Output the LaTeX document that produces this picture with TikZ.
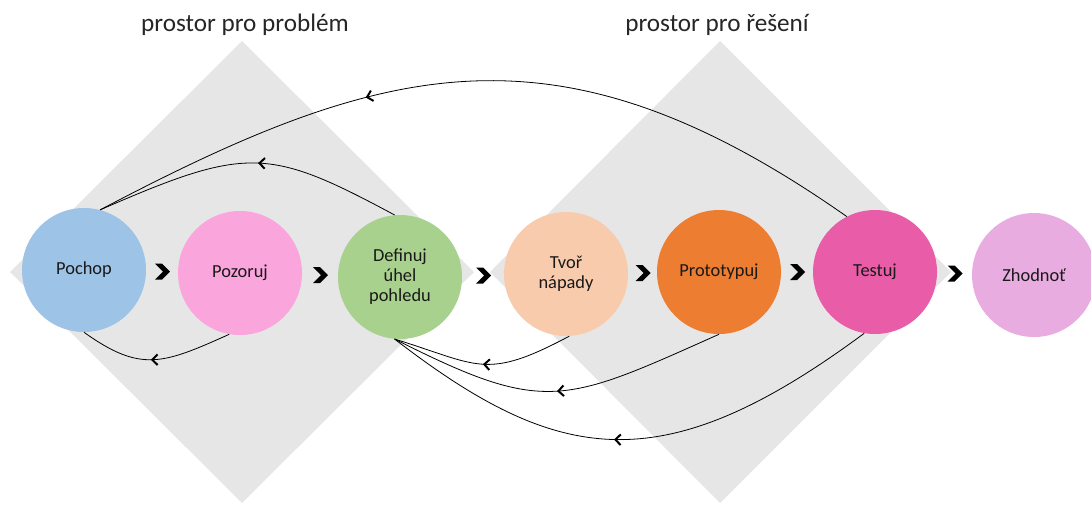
\documentclass[tikz,border=0pt]{standalone}
\usepackage{fontspec}
\setmainfont{Carlito}
\usetikzlibrary{arrows.meta,decorations.markings,calc}

\definecolor{spacegray}{HTML}{E6E6E6}
\definecolor{pochopblue}{HTML}{9DC3E6}
\definecolor{pozorujpink}{HTML}{FBA5DD}
\definecolor{definujgreen}{HTML}{A9D18E}
\definecolor{tvorpeach}{HTML}{F8CBAD}
\definecolor{prototyporange}{HTML}{ED7D31}
\definecolor{testujpink}{HTML}{E95CA8}
\definecolor{zhodnotviolet}{HTML}{E9ACE1}

\begin{document}
\begin{tikzpicture}[x=0.75pt,y=-0.75pt]
  \tikzset{ c/.style={circle,fill=#1,inner sep=0pt,minimum size=93pt,text=black!90,align=center,font=\fontsize{13.8}{15}\selectfont},
    back/.style={line width=0.6pt,postaction={decorate,decoration={markings,mark=at position #1 with {\arrow{Straight Barb[length=4pt,width=8pt,line width=1.5pt]}}}}},
    title/.style={text=black!85,font=\fontsize{18.9}{22}\selectfont},
  }
  \useasboundingbox (0,0) rectangle (1091,504);

  % the two spaces
  \fill[spacegray] (242,41) -- (474,272) -- (242,503) -- (10,272) -- cycle;
  \fill[spacegray] (720,41) -- (951,272) -- (720,503) -- (490,272) -- cycle;
  \node[title] (t1) at (245,25) {prostor pro problém};
  \node[title] (t2) at (717,25) {prostor pro řešení};

  % the steps
  \node[c=pochopblue] (pochop) at (84,270) {Pochop};
  \node[c=pozorujpink] (pozoruj) at (240,273) {Pozoruj};
  \node[c=definujgreen] (definuj) at (400,277) {Definuj\\úhel\\pohledu};
  \node[c=tvorpeach] (tvor) at (566,274) {Tvoř\\nápady};
  \node[c=prototyporange] (prototypuj) at (719,272) {Prototypuj};
  \node[c=testujpink] (testuj) at (875,272) {Testuj};
  \node[c=zhodnotviolet] (zhodnot) at (1034,275) {Zhodnoť};

  % the chevrons between the steps
  \foreach \a/\b in {pochop/pozoruj,pozoruj/definuj,definuj/tvor,tvor/prototypuj,prototypuj/testuj,testuj/zhodnot}
    \fill ($(\a.center)!0.5!(\b.center)$) ++(-7,-8) -- ++(7,0) -- ++(8,8) -- ++(-8,8) -- ++(-7,0) -- ++(8,-8) -- cycle;

  % the ways back
  \draw[back=0.47] (definuj.95) .. controls (268,147) and (247,146) .. (pochop.75);
  \draw[back=0.64] (testuj.117) .. controls (558,14) and (385,60) .. (pochop.75);
  \draw[back=0.53] (pozoruj.-100) .. controls (163,364) and (141,373) .. (pochop.-90);
  \draw[back=0.5] (tvor.-87) .. controls (485,381) and (479,365) .. (definuj.-95);
  \draw[back=0.5] (prototypuj.-90) .. controls (563,404) and (545,415) .. (definuj.-95);
  \draw[back=0.53] (testuj.-100) .. controls (662,483) and (558,465) .. (definuj.-95);
\end{tikzpicture}
\end{document}
